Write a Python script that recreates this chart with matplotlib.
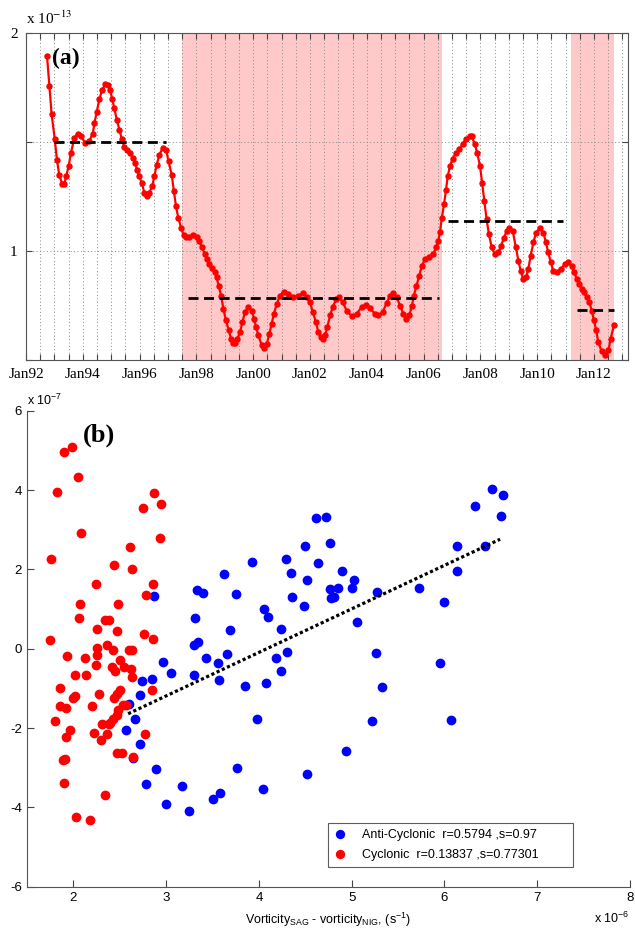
import numpy as np
import matplotlib
matplotlib.use('Agg')
import matplotlib.pyplot as plt

plt.rcParams['mathtext.fontset'] = 'custom'
plt.rcParams['mathtext.rm'] = 'Liberation Sans'
plt.rcParams['mathtext.it'] = 'Liberation Sans:italic'
plt.rcParams['axes.unicode_minus'] = False

# ---- panel (a): time series, decimal years / value x 1e-13
t_years = [1992.74, 1992.82, 1992.90, 1993.01, 1993.09, 1993.17, 1993.27, 1993.35, 1993.42, 1993.50,
           1993.58, 1993.70, 1993.82, 1993.94, 1994.09, 1994.23, 1994.35, 1994.41, 1994.49, 1994.58,
           1994.68, 1994.79, 1994.88, 1994.96, 1995.03, 1995.11, 1995.20, 1995.29, 1995.37, 1995.46,
           1995.56, 1995.66, 1995.76, 1995.84, 1995.91, 1995.99, 1996.07, 1996.17, 1996.26, 1996.34,
           1996.44, 1996.52, 1996.60, 1996.70, 1996.81, 1996.93, 1997.02, 1997.13, 1997.21, 1997.28,
           1997.36, 1997.46, 1997.55, 1997.63, 1997.75, 1997.89, 1998.01, 1998.10, 1998.20, 1998.29,
           1998.37, 1998.45, 1998.55, 1998.64, 1998.71, 1998.78, 1998.87, 1998.95, 1999.04, 1999.14,
           1999.22, 1999.30, 1999.36, 1999.44, 1999.54, 1999.62, 1999.71, 1999.83, 1999.95, 2000.03,
           2000.10, 2000.18, 2000.30, 2000.38, 2000.48, 2000.57, 2000.65, 2000.73, 2000.83, 2000.94,
           2001.08, 2001.24, 2001.41, 2001.59, 2001.74, 2001.88, 2002.00, 2002.10, 2002.21, 2002.29,
           2002.38, 2002.45, 2002.53, 2002.61, 2002.71, 2002.80, 2002.92, 2003.03, 2003.15, 2003.29,
           2003.47, 2003.64, 2003.82, 2003.96, 2004.11, 2004.29, 2004.41, 2004.56, 2004.70, 2004.82,
           2004.91, 2005.05, 2005.17, 2005.29, 2005.38, 2005.50, 2005.59, 2005.66, 2005.75, 2005.85,
           2005.93, 2006.05, 2006.19, 2006.34, 2006.44, 2006.52, 2006.58, 2006.64, 2006.72, 2006.79,
           2006.85, 2006.93, 2007.02, 2007.14, 2007.26, 2007.38, 2007.49, 2007.63, 2007.69, 2007.81,
           2007.89, 2007.99, 2008.06, 2008.14, 2008.22, 2008.30, 2008.40, 2008.51, 2008.63, 2008.73,
           2008.83, 2008.93, 2009.02, 2009.14, 2009.25, 2009.34, 2009.42, 2009.51, 2009.61, 2009.69,
           2009.77, 2009.87, 2009.96, 2010.10, 2010.22, 2010.31, 2010.39, 2010.48, 2010.57, 2010.69,
           2010.83, 2010.98, 2011.10, 2011.21, 2011.31, 2011.39, 2011.49, 2011.57, 2011.65, 2011.74,
           2011.84, 2011.92, 2012.00, 2012.08, 2012.15, 2012.27, 2012.39, 2012.51, 2012.59, 2012.71]
series_vals = [1.895, 1.76, 1.63, 1.516, 1.417, 1.35, 1.31, 1.31, 1.347, 1.39,
               1.45, 1.52, 1.54, 1.527, 1.496, 1.507, 1.54, 1.588, 1.64, 1.697,
               1.74, 1.766, 1.763, 1.74, 1.70, 1.656, 1.60, 1.557, 1.516, 1.48,
               1.466, 1.45, 1.428, 1.405, 1.374, 1.344, 1.314, 1.268, 1.253, 1.268,
               1.298, 1.344, 1.397, 1.443, 1.473, 1.466, 1.412, 1.35, 1.275, 1.207,
               1.154, 1.108, 1.072, 1.065, 1.067, 1.073, 1.067, 1.047, 1.017, 0.986,
               0.963, 0.94, 0.922, 0.903, 0.88, 0.842, 0.796, 0.735, 0.682, 0.636,
               0.598, 0.58, 0.578, 0.598, 0.629, 0.674, 0.72, 0.743, 0.727, 0.69,
               0.652, 0.613, 0.568, 0.553, 0.575, 0.621, 0.667, 0.712, 0.758, 0.796,
               0.814, 0.804, 0.789, 0.796, 0.807, 0.790, 0.766, 0.72, 0.674, 0.629,
               0.606, 0.598, 0.613, 0.652, 0.705, 0.743, 0.778, 0.789, 0.766, 0.727,
               0.702, 0.712, 0.743, 0.753, 0.738, 0.712, 0.705, 0.72, 0.763, 0.796,
               0.808, 0.789, 0.75, 0.712, 0.69, 0.705, 0.75, 0.796, 0.842, 0.887,
               0.93, 0.963, 0.974, 0.986, 1.017, 1.047, 1.09, 1.15, 1.215, 1.28,
               1.344, 1.39, 1.423, 1.45, 1.468, 1.493, 1.515, 1.53, 1.528, 1.49,
               1.45, 1.39, 1.314, 1.23, 1.146, 1.078, 1.017, 0.986, 0.994, 1.024,
               1.062, 1.093, 1.106, 1.093, 1.017, 0.956, 0.91, 0.872, 0.88, 0.918,
               0.979, 1.04, 1.085, 1.108, 1.085, 1.04, 0.994, 0.948, 0.91, 0.903,
               0.918, 0.94, 0.948, 0.933, 0.903, 0.872, 0.849, 0.826, 0.811, 0.789,
               0.766, 0.727, 0.682, 0.636, 0.583, 0.54, 0.522, 0.545, 0.598, 0.663]

# shaded periods (start, end) and period means (start, end, value)
shade_start = [1997.49, 2011.18]
shade_end = [2006.64, 2012.70]
mean_start = [1993.00, 1997.69, 2006.85, 2011.39]
mean_end = [1996.93, 2006.55, 2010.92, 2012.70]
mean_val = [1.50, 0.783, 1.140, 0.731]

label_years = list(range(1992, 2013, 2))
label_text = ['Jan92', 'Jan94', 'Jan96', 'Jan98', 'Jan00', 'Jan02',
              'Jan04', 'Jan06', 'Jan08', 'Jan10', 'Jan12']

# ---- panel (b): scatter, x in 1e-6, y in 1e-7
anti_x = [2.87, 3.33, 3.40, 3.31, 3.30, 3.34, 3.62, 3.75, 3.69, 3.93,
          4.05, 4.10, 4.24, 4.29, 4.35, 4.36, 4.49, 4.50, 4.52, 4.62,
          4.72, 4.64, 4.77, 4.90, 5.03, 4.77, 4.85, 5.00, 4.78, 4.81,
          5.27, 5.06, 5.73, 5.99, 6.13, 6.14, 6.33, 6.51, 6.63, 6.61,
          6.44, 5.26, 5.95, 5.33, 5.22, 6.07, 4.94, 4.52, 2.97, 3.05,
          3.30, 3.43, 3.56, 3.66, 3.57, 3.85, 4.08, 4.18, 4.24, 4.30,
          2.74, 2.85, 2.72, 2.60, 2.66, 2.57, 2.72, 2.64, 2.89, 2.78,
          3.00, 3.17, 3.25, 3.51, 3.58, 3.76, 3.98, 4.04]
anti_y = [1.33, 1.48, 1.40, 0.77, 0.09, 0.16, 1.89, 1.37, 0.48, 2.19,
          1.01, 0.81, 0.49, 2.26, 1.90, 1.31, 1.08, 2.58, 1.73, 3.30,
          3.33, 2.16, 2.66, 1.96, 1.74, 1.51, 1.53, 1.52, 1.29, 1.31,
          1.42, 0.67, 1.54, 1.19, 2.60, 1.96, 3.60, 4.03, 3.88, 3.34,
          2.60, -0.12, -0.37, -0.96, -1.81, -1.79, -2.57, -3.16, -0.33, -0.61,
          -0.65, -0.24, -0.37, -0.14, -0.80, -0.93, -0.87, -0.23, -0.56, -0.09,
          -0.82, -0.77, -1.17, -1.39, -1.77, -2.05, -2.41, -2.75, -3.02, -3.42,
          -3.91, -3.45, -4.08, -3.79, -3.64, -3.00, -1.76, -3.54]

cyc_x = [1.75, 1.76, 1.82, 1.90, 1.99, 2.05, 2.08, 2.07, 2.06, 2.24,
         2.26, 2.26, 2.34, 2.38, 2.44, 2.48, 2.47, 2.36, 2.43, 2.61,
         2.63, 2.78, 2.76, 2.86, 2.86, 2.75, 2.87, 2.94, 2.93, 2.60,
         2.63, 1.93, 2.13, 2.26, 2.50, 2.24, 2.02, 2.14, 2.42, 2.45,
         2.55, 2.62, 2.63, 1.86, 2.02, 2.00, 2.28, 2.50, 2.47, 2.44,
         2.85, 1.86, 1.92, 2.20, 2.54, 2.57, 2.48, 2.47, 2.43, 1.80,
         2.31, 2.38, 2.40, 1.96, 2.22, 2.36, 1.92, 2.30, 2.77, 2.47,
         2.52, 2.64, 1.89, 1.91, 1.90, 2.34, 2.03, 2.18]
cyc_y = [0.21, 2.26, 3.96, 4.96, 5.09, 4.34, 2.91, 1.12, 0.78, 1.63,
         0.49, 0.03, 0.73, 0.73, 2.11, 1.13, 0.45, 0.09, -0.03, 2.57,
         2.02, 1.36, 0.37, 0.25, 1.63, 3.55, 3.92, 3.64, 2.80, -0.03,
         -0.03, -0.18, -0.24, -0.16, -0.29, -0.41, -0.66, -0.66, -0.45, -0.55,
         -0.45, -0.51, -0.71, -1.00, -1.18, -1.25, -1.13, -1.05, -1.15, -1.25,
         -1.04, -1.45, -1.50, -1.45, -1.43, -1.43, -1.54, -1.67, -1.77, -1.81,
         -1.91, -1.91, -1.87, -2.05, -2.12, -2.16, -2.23, -2.29, -2.15, -2.63,
         -2.63, -2.73, -2.81, -2.79, -3.38, -3.70, -4.25, -4.33]

fit_x = [2.59, 6.60]
fit_y = [-1.64, 2.76]

legend_text = ['Anti-Cyclonic  r=0.5794 ,s=0.97', 'Cyclonic  r=0.13837 ,s=0.77301']

SERIF = 'Liberation Serif'
SANS = 'Liberation Sans'

fig = plt.figure(figsize=(6.35, 9.32), dpi=100)

# ------------------------- (a)
ax1 = fig.add_axes([0.041, 0.6137, 0.948, 0.3505])
for s, e in zip(shade_start, shade_end):
    ax1.axvspan(s, e, color='#ffc9c9', lw=0, zorder=0)
ax1.set_xticks(np.arange(1992, 2013.01, 0.5))
ax1.set_xticklabels([label_text[label_years.index(int(v))] if v in label_years else ''
                     for v in np.arange(1992, 2013.01, 0.5)])
ax1.set_yticks([0.5, 1.0, 1.5, 2.0])
ax1.set_yticklabels(['', '1', '', '2'])
ax1.grid(True, color='#888888', linestyle=(0, (1, 2.5)), linewidth=0.7, zorder=1)
ax1.set_axisbelow(True)
ax1.plot(t_years, series_vals, color='red', lw=1.6, marker='o', ms=3.6, zorder=3)
for s, e, v in zip(mean_start, mean_end, mean_val):
    ax1.plot([s, e], [v, v], color='black', lw=2.0, dashes=(3.6, 2.0), zorder=4)
ax1.set_xlim(1992.0, 2013.2)
ax1.set_ylim(0.5, 2.0)
ax1.tick_params(direction='in', length=4, top=True, right=True, labelsize=11, pad=6,
                color='#444444')
for lab in ax1.get_xticklabels() + ax1.get_yticklabels():
    lab.set_fontfamily(SERIF)
for sp in ax1.spines.values():
    sp.set_color('#555555')
ax1.text(0.043, 0.924, '(a)', transform=ax1.transAxes, fontsize=17, fontweight='bold',
         family=SERIF, va='center', ha='left')
fig.text(0.041, 0.9705, r'x 10$^{-13}$', fontsize=11, family=SERIF, math_fontfamily='stix',
         ha='left', va='bottom')

# ------------------------- (b)
ax2 = fig.add_axes([0.0425, 0.0486, 0.9496, 0.5107])
ax2.plot(anti_x, anti_y, 'o', color='blue', ms=6, mec='blue', label=legend_text[0])
ax2.plot(cyc_x, cyc_y, 'o', color='red', ms=6, mec='red', label=legend_text[1])
ax2.plot(fit_x, fit_y, color='black', lw=2.3, linestyle=(0, (1, 0.8)))
ax2.set_xlim(1.5, 8)
ax2.set_ylim(-6, 6)
ax2.set_xticks([2, 3, 4, 5, 6, 7, 8])
ax2.set_yticks([-6, -4, -2, 0, 2, 4, 6])
ax2.spines['top'].set_visible(False)
ax2.spines['right'].set_visible(False)
for sp in ax2.spines.values():
    sp.set_color('#555555')
ax2.tick_params(direction='in', length=5, labelsize=9.5, color='#444444')
for lab in ax2.get_xticklabels() + ax2.get_yticklabels():
    lab.set_fontfamily(SANS)
ax2.set_xlabel(r'Vorticity$_{\mathrm{SAG}}$ - vorticity$_{\mathrm{NIG}}$, (s$^{-1}$)',
               family=SANS, fontsize=9, labelpad=5)
ax2.text(0.093, 0.949, '(b)', transform=ax2.transAxes, fontsize=19, fontweight='bold',
         family=SERIF, va='center', ha='left')
fig.text(0.0425, 0.5705, r'x 10$^{-7}$', fontsize=9, family=SANS, ha='left', va='center')
fig.text(0.992, 0.015, r'x 10$^{-6}$', fontsize=9, family=SANS, ha='right', va='center')
leg = ax2.legend(loc='lower left', bbox_to_anchor=(0.499, 0.041, 0.406, 0.105), mode='expand',
                 prop={'family': SANS, 'size': 9}, fancybox=False, edgecolor='#333333',
                 handlelength=1.0, handletextpad=1.2, borderaxespad=0, borderpad=0.5,
                 labelspacing=0.6, markerscale=0.95)
leg.get_frame().set_linewidth(0.8)

fig.savefig('out.png', dpi=100)
